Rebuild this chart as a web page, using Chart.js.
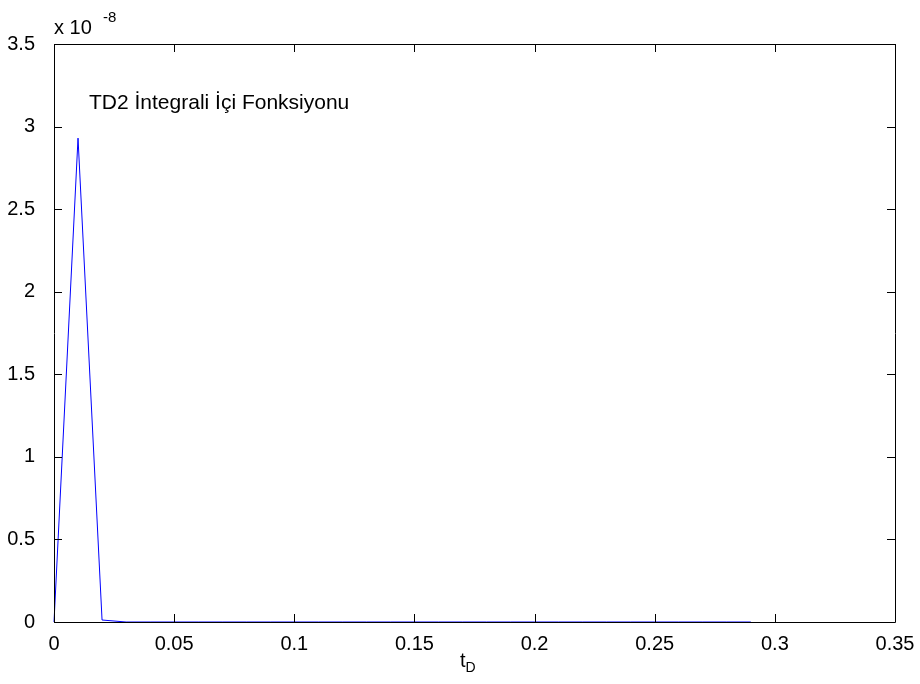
<!DOCTYPE html>
<html>
<head>
<meta charset="utf-8">
<script src="https://cdn.jsdelivr.net/npm/chart.js@4/dist/chart.umd.min.js"></script>
<style>
  html, body { margin: 0; padding: 0; background: #fff; }
  #wrap { width: 920px; height: 684px; }
</style>
</head>
<body>
<div id="wrap"><canvas id="c" width="920" height="684"></canvas></div>
<script>
// Integrand of the TD2 integral sampled over dimensionless time t_D
const tD = [0, 0.01, 0.02, 0.03, 0.04, 0.05, 0.06, 0.07, 0.08, 0.09,
            0.10, 0.11, 0.12, 0.13, 0.14, 0.15, 0.16, 0.17, 0.18, 0.19,
            0.20, 0.21, 0.22, 0.23, 0.24, 0.25, 0.26, 0.27, 0.28, 0.29];
const integrand = [0, 2.93e-8, 0.012e-8, 0, 0, 0, 0, 0, 0, 0,
                   0, 0, 0, 0, 0, 0, 0, 0, 0, 0,
                   0, 0, 0, 0, 0, 0, 0, 0, 0, 0];
const xTicks = [0, 0.05, 0.1, 0.15, 0.2, 0.25, 0.3, 0.35];
const yTicks = [0, 0.5e-8, 1e-8, 1.5e-8, 2e-8, 2.5e-8, 3e-8, 3.5e-8];
const yExponent = -8;
const seriesLabel = 'TD2 İntegrali İçi Fonksiyonu';

const FONT = '"Liberation Sans", Arial, sans-serif';

// Box frame, inward ticks on all sides, exponent, caption and axis title
const frame = {
  id: 'frame',
  afterDraw(chart) {
    const { ctx, chartArea: a, scales } = chart;
    const len = 8;
    ctx.save();
    ctx.strokeStyle = '#000';
    ctx.lineWidth = 1;
    ctx.beginPath();
    ctx.rect(Math.round(a.left) + 0.5, Math.round(a.top) + 0.5,
             Math.round(a.right - a.left), Math.round(a.bottom - a.top));
    ctx.stroke();
    ctx.beginPath();
    xTicks.forEach(v => {
      const px = Math.round(scales.x.getPixelForValue(v)) + 0.5;
      ctx.moveTo(px, a.bottom); ctx.lineTo(px, a.bottom - len);
      ctx.moveTo(px, a.top); ctx.lineTo(px, a.top + len);
    });
    yTicks.forEach(v => {
      const py = Math.round(scales.y.getPixelForValue(v)) + 0.5;
      ctx.moveTo(a.left, py); ctx.lineTo(a.left + len, py);
      ctx.moveTo(a.right, py); ctx.lineTo(a.right - len, py);
    });
    ctx.stroke();

    ctx.fillStyle = '#000';
    ctx.textBaseline = 'alphabetic';
    ctx.textAlign = 'left';
    ctx.font = '20px ' + FONT;
    ctx.fillText('x 10', a.left, 34);
    ctx.font = '15px ' + FONT;
    ctx.fillText(String(yExponent), a.left + 49, 22);

    ctx.font = '21px ' + FONT;
    ctx.fillText(seriesLabel, a.left + 35, 109);

    // x-axis title t_D with subscript
    const tx = 460;
    ctx.font = '20px ' + FONT;
    ctx.fillText('t', tx, 667);
    const tw = ctx.measureText('t').width;
    ctx.font = '14px ' + FONT;
    ctx.fillText('D', tx + tw, 672);
    ctx.restore();
  }
};

new Chart(document.getElementById('c'), {
  type: 'line',
  data: {
    labels: tD,
    datasets: [{
      label: seriesLabel,
      data: tD.map((x, i) => ({ x: x, y: integrand[i] })),
      borderColor: '#0000ff',
      borderWidth: 1,
      pointRadius: 0,
      fill: false,
      tension: 0,
      clip: false
    }]
  },
  options: {
    responsive: false,
    animation: false,
    devicePixelRatio: 1,
    layout: { padding: { left: 0, top: 44, right: 25, bottom: 0 } },
    plugins: { legend: { display: false }, tooltip: { enabled: false } },
    scales: {
      x: {
        type: 'linear',
        min: 0, max: 0.35,
        grid: { display: false },
        border: { display: false },
        afterFit(s) { s.height = 62; },
        afterBuildTicks(s) { s.ticks = xTicks.map(v => ({ value: v })); },
        ticks: {
          color: '#000',
          padding: 2,
          maxRotation: 0,
          autoSkip: false,
          font: { family: FONT, size: 20 },
          callback: v => String(+v.toFixed(2))
        }
      },
      y: {
        type: 'linear',
        min: 0, max: 3.5e-8,
        grid: { display: false },
        border: { display: false },
        afterFit(s) { s.width = 54; },
        afterBuildTicks(s) { s.ticks = yTicks.map(v => ({ value: v })); },
        ticks: {
          color: '#000',
          padding: 11,
          autoSkip: false,
          font: { family: FONT, size: 20 },
          callback: v => String(+(v / Math.pow(10, yExponent)).toFixed(2))
        }
      }
    }
  },
  plugins: [frame]
});
</script>
</body>
</html>
